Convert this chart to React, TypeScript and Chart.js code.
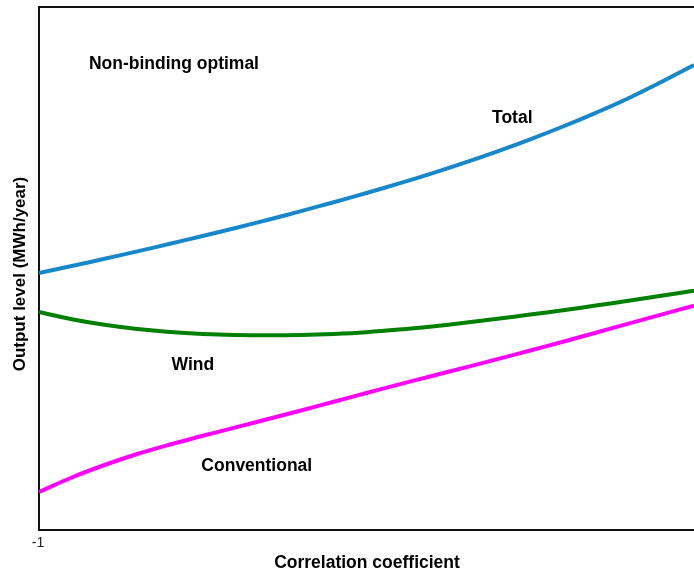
import React, { useEffect, useRef } from "react";
import { Chart, registerables } from "chart.js";

Chart.register(...registerables);

const xValues = [-1, -0.9, -0.8, -0.7, -0.6, -0.5, -0.4, -0.3, -0.2, -0.1, 0, 0.1, 0.2, 0.3, 0.4, 0.5, 0.6, 0.7, 0.8, 0.9, 1];
const totalSeries = [257, 264, 271.2, 278.6, 286.2, 294, 302, 310.3, 318.9, 327.8, 337, 346.6, 356.7, 367.4, 378.7, 390.7, 403.5, 417.2, 431.8, 448, 465];
const windSeries = [218, 210.8, 205.2, 201, 198, 196.1, 195.1, 194.8, 195.1, 196.1, 197.8, 200.4, 203.6, 207.2, 211.2, 215.4, 219.8, 224.4, 229.2, 234.2, 239.4];
const conventionalSeries = [38, 52.5, 65, 76, 85.5, 94.2, 102.6, 111, 119.5, 128.2, 137, 145.6, 154, 162.4, 170.9, 179.5, 188.3, 197.3, 206.4, 215.4, 224.2];
const tickLabels = ["-1"];
const annotations = [
  { text: "Non-binding optimal", x: -0.588, y: 466 },
  { text: "Total", x: 0.445, y: 412 },
  { text: "Wind", x: -0.53, y: 165 },
  { text: "Conventional", x: -0.335, y: 64 },
];

const FONT = "'Liberation Sans', Arial, sans-serif";

export default function App() {
  const ref = useRef<HTMLCanvasElement | null>(null);
  useEffect(() => {
    if (!ref.current) return;
    const mk = (vals: number[]) => xValues.map((x, i) => ({ x, y: vals[i] }));
    const textPlugin = {
      id: "texts",
      afterDraw(chart: any) {
        const { ctx, chartArea, scales } = chart;
        const xs = scales.x;
        const ys = scales.y;
        ctx.save();
        ctx.strokeStyle = "#111";
        ctx.lineWidth = 2;
        ctx.beginPath();
        ctx.moveTo(chartArea.left - 1, chartArea.top);
        ctx.lineTo(chartArea.right, chartArea.top);
        ctx.stroke();
        ctx.fillStyle = "#000";
        ctx.textAlign = "center";
        ctx.textBaseline = "middle";
        ctx.font = `bold 17.5px ${FONT}`;
        for (const a of annotations) {
          ctx.fillText(a.text, xs.getPixelForValue(a.x), ys.getPixelForValue(a.y));
        }
        ctx.fillText("Correlation coefficient", 367, 563);
        ctx.save();
        ctx.font = `bold 17px ${FONT}`;
        ctx.translate(20, 274);
        ctx.rotate(-Math.PI / 2);
        ctx.fillText("Output level (MWh/year)", 0, 0);
        ctx.restore();
        ctx.font = `14px ${FONT}`;
        ctx.fillStyle = "#222";
        ctx.fillText(tickLabels[0], xs.getPixelForValue(-1) - 1, 543);
        ctx.restore();
      },
    };
    const common = { borderWidth: 4, pointRadius: 0, tension: 0.4 };
    const chart = new Chart(ref.current, {
      type: "line",
      data: {
        datasets: [
          { label: "Total", data: mk(totalSeries), borderColor: "#1787cc", ...common },
          { label: "Wind", data: mk(windSeries), borderColor: "#008000", ...common },
          { label: "Conventional", data: mk(conventionalSeries), borderColor: "#ff00ff", ...common },
        ],
      },
      options: {
        responsive: false,
        animation: false,
        layout: { padding: { top: 7, right: 0, left: 0, bottom: 0 } },
        plugins: { legend: { display: false }, tooltip: { enabled: false } },
        scales: {
          x: {
            type: "linear",
            min: -1,
            max: 1,
            grid: { display: false },
            border: { display: true, color: "#111", width: 2 },
            ticks: { display: false },
            afterFit: (s: any) => { s.height = 43; },
          },
          y: {
            type: "linear",
            min: 0,
            max: 523,
            grid: { display: false },
            border: { display: true, color: "#111", width: 2 },
            ticks: { display: false },
            afterFit: (s: any) => { s.width = 39; },
          },
        },
      },
      plugins: [textPlugin],
    } as any);
    return () => chart.destroy();
  }, []);
  return (
    <div style={{ position: "absolute", left: 0, top: 0, width: 694, height: 573, background: "#fff" }}>
      <canvas ref={ref} width={694} height={573} style={{ display: "block" }} />
    </div>
  );
}
